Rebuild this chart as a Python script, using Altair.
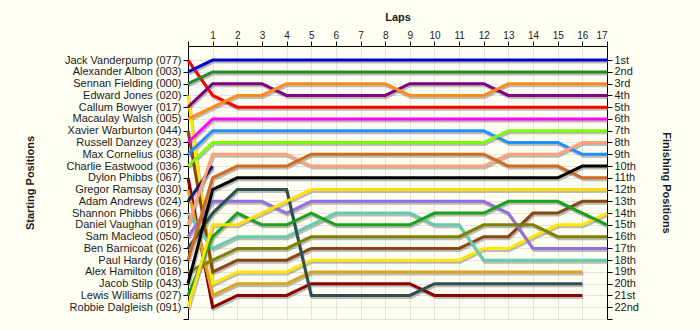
import json
import altair as alt
import pandas as pd

# ---------------- data ----------------
laps = list(range(18))

start_names = [
    "Jack Vanderpump (077)", "Alexander Albon (003)", "Sennan Fielding (000)",
    "Edward Jones (020)", "Callum Bowyer (017)", "Macaulay Walsh (005)",
    "Xavier Warburton (044)", "Russell Danzey (023)", "Max Cornelius (038)",
    "Charlie Eastwood (036)", "Dylon Phibbs (067)", "Gregor Ramsay (030)",
    "Adam Andrews (024)", "Shannon Phibbs (066)", "Daniel Vaughan (019)",
    "Sam Macleod (050)", "Ben Barnicoat (026)", "Paul Hardy (016)",
    "Alex Hamilton (018)", "Jacob Stilp (043)", "Lewis Williams (027)",
    "Robbie Dalgleish (091)",
]

finish_labels = [
    "1st", "2nd", "3rd", "4th", "5th", "6th", "7th", "8th", "9th", "10th",
    "11th", "12th", "13th", "14th", "15th", "16th", "17th", "18th", "19th",
    "20th", "21st", "22nd",
]

line_colors = [
    "#FF0000", "#0000CC", "#228B22", "#FFE800", "#800080", "#FF8C1A",
    "#8B4513", "#FF00FF", "#1E90FF", "#7CFC00", "#8B0000", "#DAA520",
    "#191970", "#66CDAA", "#FFA07A", "#9370DB", "#2F4F4F", "#D2691E",
    "#808000", "#000000", "#1AA01A", "#FFE000",
]

# positions at laps 0..17 (None = no longer running)
p_vanderpump = [1, 4, 5, 5, 5, 5, 5, 5, 5, 5, 5, 5, 5, 5, 5, 5, 5, 5]
p_albon      = [2, 1, 1, 1, 1, 1, 1, 1, 1, 1, 1, 1, 1, 1, 1, 1, 1, 1]
p_fielding   = [3, 2, 2, 2, 2, 2, 2, 2, 2, 2, 2, 2, 2, 2, 2, 2, 2, 2]
p_jones      = [4, 20, 19, 19, 19, 18, 18, 18, 18, 18, 18, 18, 17, 17, 16, 15, 15, 14]
p_bowyer     = [5, 3, 3, 3, 4, 4, 4, 4, 4, 3, 3, 3, 3, 4, 4, 4, 4, 4]
p_walsh      = [6, 5, 4, 4, 3, 3, 3, 3, 3, 4, 4, 4, 4, 3, 3, 3, 3, 3]
p_warburton  = [7, 19, 18, 18, 18, 17, 17, 17, 17, 17, 17, 17, 16, 16, 14, 14, 13, 13]
p_danzey     = [8, 6, 6, 6, 6, 6, 6, 6, 6, 6, 6, 6, 6, 6, 6, 6, 6, 6]
p_cornelius  = [9, 7, 7, 7, 7, 7, 7, 7, 7, 7, 7, 7, 7, 8, 8, 8, 9, 9]
p_eastwood   = [10, 8, 8, 8, 8, 8, 8, 8, 8, 8, 8, 8, 8, 7, 7, 7, 7, 7]
p_d_phibbs   = [11, 22, 21, 21, 21, 20, 20, 20, 20, 20, 21, 21, 21, 21, 21, 21, 21, None]
p_ramsay     = [12, 21, 20, 20, 20, 19, 19, 19, 19, 19, 19, 19, 19, 19, 19, 19, 19, None]
p_andrews    = [13, 10, None, None, None, None, None, None, None, None, None, None, None, None, None, None, None, None]
p_s_phibbs   = [14, 17, 16, 16, 16, 15, 14, 14, 14, 14, 15, 15, 18, 18, 18, 18, 18, 18]
p_vaughan    = [15, 9, 9, 9, 9, 10, 10, 10, 10, 10, 10, 10, 10, 9, 9, 9, 8, 8]
p_macleod    = [16, 13, 13, 13, 14, 13, 13, 13, 13, 13, 13, 13, 13, 14, 17, 17, 17, 17]
p_barnicoat  = [17, 14, 12, 12, 12, 21, 21, 21, 21, 21, 20, 20, 20, 20, 20, 20, 20, None]
p_hardy      = [18, 11, 10, 10, 10, 9, 9, 9, 9, 9, 9, 9, 9, 10, 10, 10, 11, 11]
p_hamilton   = [19, 18, 17, 17, 17, 16, 16, 16, 16, 16, 16, 16, 15, 15, 15, 16, 16, 16]
p_stilp      = [20, 12, 11, 11, 11, 11, 11, 11, 11, 11, 11, 11, 11, 11, 11, 11, 10, 10]
p_williams   = [21, 16, 14, 15, 15, 14, 15, 15, 15, 15, 14, 14, 14, 13, 13, 13, 14, 15]
p_dalgleish  = [22, 15, 15, 14, 13, 12, 12, 12, 12, 12, 12, 12, 12, 12, 12, 12, 12, 12]

position_rows = [
    p_vanderpump, p_albon, p_fielding, p_jones, p_bowyer, p_walsh, p_warburton,
    p_danzey, p_cornelius, p_eastwood, p_d_phibbs, p_ramsay, p_andrews,
    p_s_phibbs, p_vaughan, p_macleod, p_barnicoat, p_hardy, p_hamilton,
    p_stilp, p_williams, p_dalgleish,
]

rows = []
for name, positions in zip(start_names, position_rows):
    for lap, pos in zip(laps, positions):
        if pos is not None:
            rows.append({"driver": name, "lap": lap, "pos": pos})
df = pd.DataFrame(rows)

# ---------------- chart ----------------
FONT = "Liberation Sans"
TXT = "#1a1a1a"

x_enc = alt.X(
    "lap:Q",
    scale=alt.Scale(domain=[0, 17], nice=False, zero=False),
    axis=alt.Axis(
        orient="top", values=laps,
        labelExpr="datum.value == 0 ? '' : datum.label",
        title="Laps", titleFontWeight="bold", titleFontSize=11,
        titlePadding=8, labelFontSize=10, labelPadding=1,
        tickSize=5, grid=True, gridColor="#e2e2e2",
        domainColor="#000000", tickColor="#000000",
        labelColor=TXT, titleColor=TXT, labelFont=FONT, titleFont=FONT,
    ),
)

y_scale = alt.Scale(domain=[-0.2, 23], reverse=True, nice=False, zero=False)
tick_vals = list(range(1, 24))

left_expr = ("datum.value >= 1 && datum.value <= 22 ? "
             + json.dumps(start_names) + "[datum.value - 1] : ''")
right_expr = ("datum.value >= 1 && datum.value <= 22 ? "
              + json.dumps(finish_labels) + "[datum.value - 1] : ''")

y_left = alt.Y(
    "pos:Q", scale=y_scale,
    axis=alt.Axis(
        orient="left", values=tick_vals, labelExpr=left_expr,
        title="Starting Positions", titleFontWeight="bold", titleFontSize=11,
        titlePadding=29, labelFontSize=11, labelPadding=2, tickSize=5,
        grid=True, gridColor="#e2e2e2", domainColor="#000000",
        tickColor="#000000", labelColor=TXT, titleColor=TXT,
        labelFont=FONT, titleFont=FONT,
    ),
)
y_right = alt.Y(
    "pos:Q", scale=y_scale,
    axis=alt.Axis(
        orient="right", values=tick_vals, labelExpr=right_expr,
        title="Finishing Positions", titleFontWeight="bold", titleFontSize=11,
        titlePadding=22, labelFontSize=11, labelPadding=2, tickSize=5,
        grid=False, domainColor="#000000", tickColor="#000000",
        labelColor=TXT, titleColor=TXT, labelFont=FONT, titleFont=FONT,
    ),
)

base = alt.Chart(df)

shadow = base.mark_line(
    strokeWidth=3, color="#7a7a7a", opacity=0.5, xOffset=1, yOffset=2,
).encode(
    x=x_enc, y=y_left, detail="driver:N", order="lap:Q",
)

lines = base.mark_line(strokeWidth=3).encode(
    x=x_enc, y=y_right,
    color=alt.Color("driver:N", scale=alt.Scale(domain=start_names, range=line_colors), legend=None),
    order="lap:Q",
)

chart = alt.layer(shadow, lines).resolve_axis(y="independent").properties(
    width=419, height=273,
    autosize=alt.AutoSizeParams(type="none"),
    padding={"left": 188, "top": 46, "right": 93, "bottom": 11},
    background="#FFFEF3",
).configure_view(stroke=None)

chart.save("out.html", embed_options={"renderer": "svg", "actions": False})
